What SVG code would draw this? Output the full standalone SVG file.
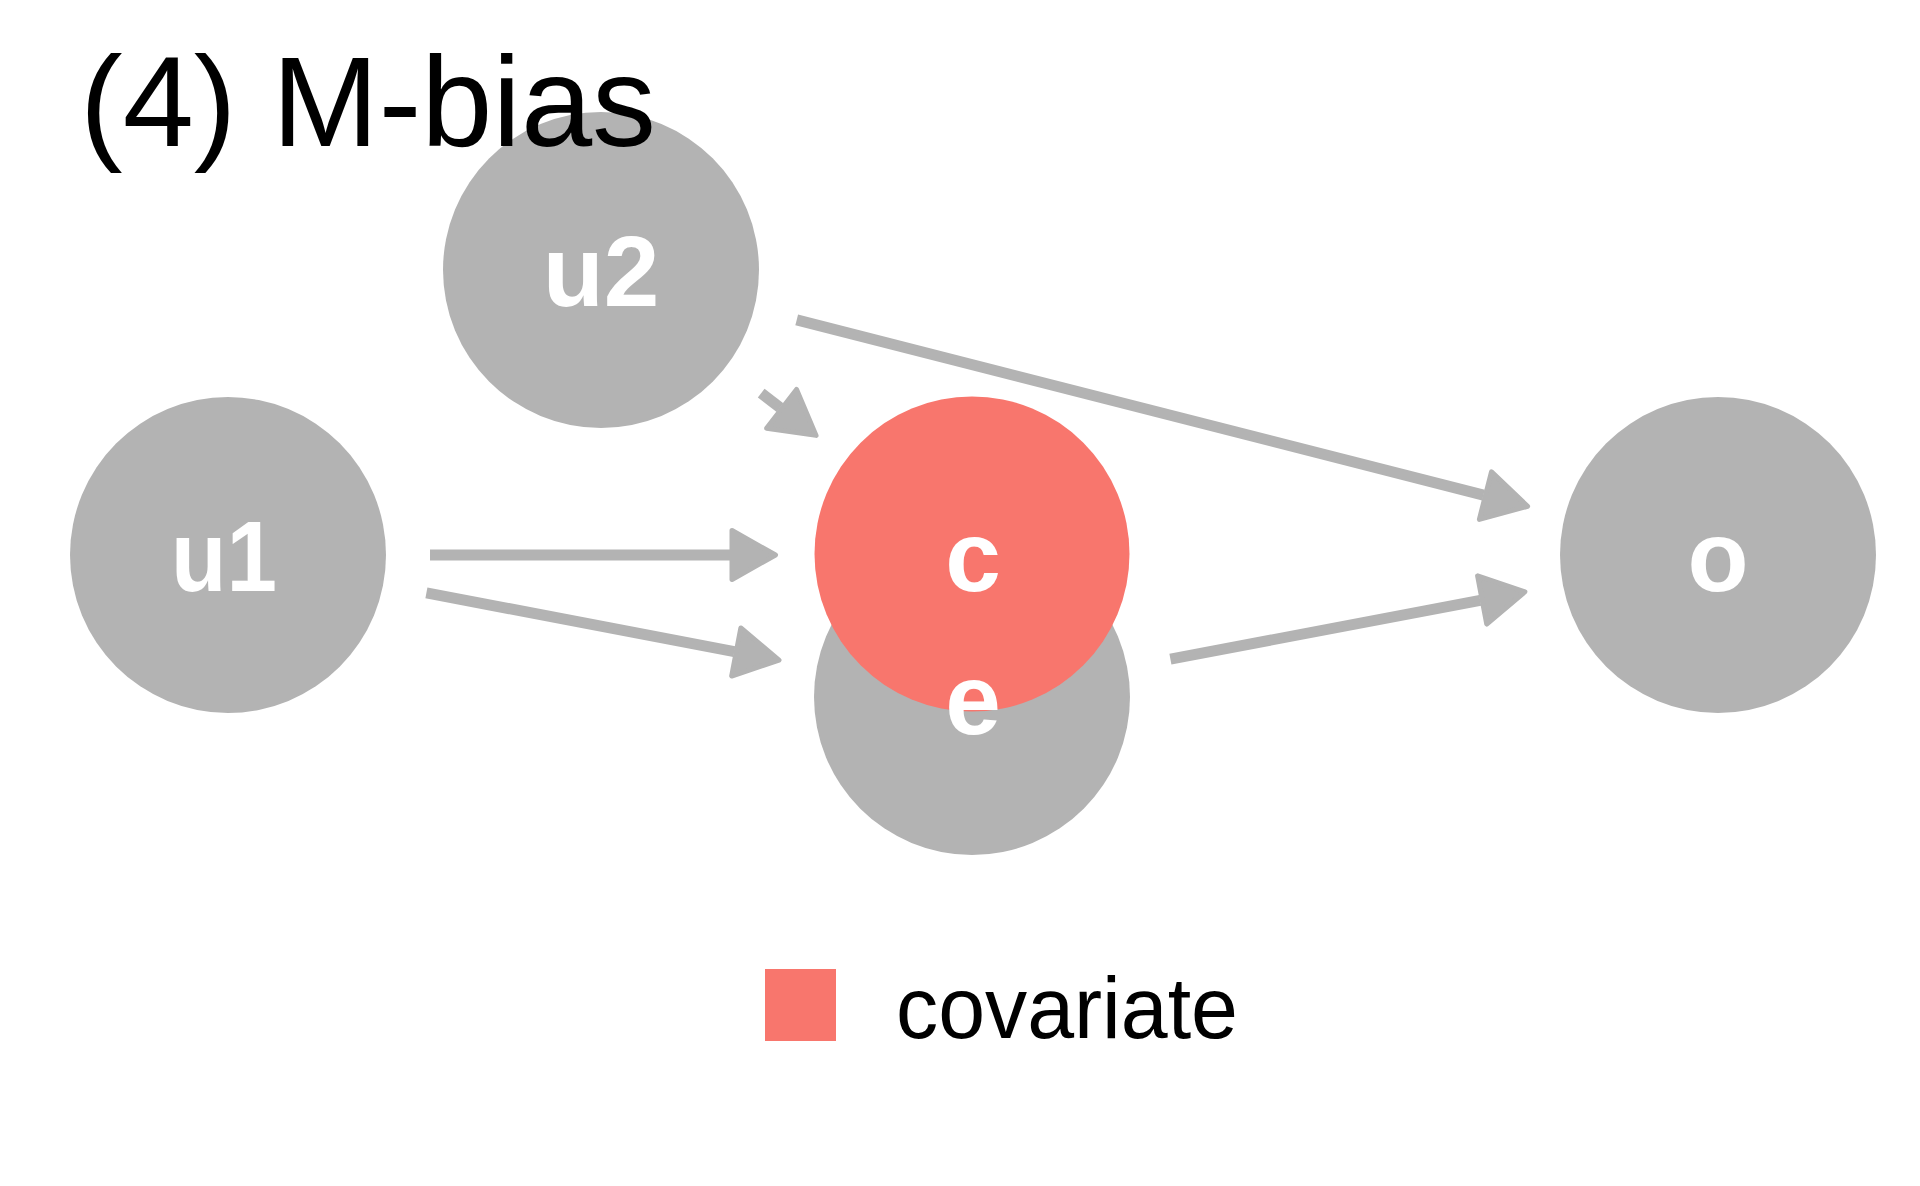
<svg xmlns="http://www.w3.org/2000/svg" width="1920" height="1186" viewBox="0 0 1920 1186">
<style>
.node{fill:#b3b3b3}
.cov{fill:#F8766D}
.lbl{font-family:"Liberation Sans",Arial,sans-serif;font-weight:bold;font-size:100px;fill:#ffffff;text-anchor:middle}
.edge{stroke:#b3b3b3;stroke-width:11;fill:none;marker-end:url(#arr)}
.title{font-family:"Liberation Sans",Arial,sans-serif;font-size:128px;fill:#000000}
.leg{font-family:"Liberation Sans",Arial,sans-serif;font-size:88px;fill:#000000}
</style>
<defs>
<marker id="arr" markerUnits="userSpaceOnUse" viewBox="-6 -34 62 68" refX="0" refY="0" markerWidth="62" markerHeight="68" orient="auto">
<path d="M2,-24.5 L45.5,0 L2,24.5 Z" fill="#b3b3b3" stroke="#b3b3b3" stroke-width="5" stroke-linejoin="round"/>
</marker>
</defs>
<rect x="0" y="0" width="1920" height="1186" fill="#ffffff"/>
<g id="edges">
<line class="edge" x1="430" y1="555" x2="730" y2="555"/>
<line class="edge" x1="426.4" y1="592.9" x2="734.3" y2="651.6"/>
<line class="edge" x1="761.2" y1="393.1" x2="780" y2="407.6"/>
<line class="edge" x1="796.7" y1="319.9" x2="1483.5" y2="495.1"/>
<line class="edge" x1="1170.4" y1="659.2" x2="1480.2" y2="600.3"/>
</g>
<g id="node-u1"><circle class="node" cx="228" cy="555" r="158"/><text class="lbl" x="224" y="591" textLength="106" lengthAdjust="spacingAndGlyphs">u1</text></g>
<g id="node-u2"><circle class="node" cx="601" cy="270" r="158"/><text class="lbl" x="601" y="306">u2</text></g>
<g id="node-e"><circle class="node" cx="972" cy="697" r="158"/></g>
<g id="node-c"><circle class="cov" cx="972" cy="554" r="157.5"/><text class="lbl" x="973" y="591">c</text></g>
<g id="node-e-label"><text class="lbl" x="973" y="734">e</text></g>
<g id="node-o"><circle class="node" cx="1718" cy="555" r="158"/><text class="lbl" x="1718" y="591">o</text></g>
<text class="title" x="80" y="146">(4) M-bias</text>
<g id="legend">
<rect x="765" y="969" width="71" height="72" fill="#F8766D"/>
<text class="leg" x="896" y="1038" textLength="342" lengthAdjust="spacingAndGlyphs">covariate</text>
</g>
</svg>
